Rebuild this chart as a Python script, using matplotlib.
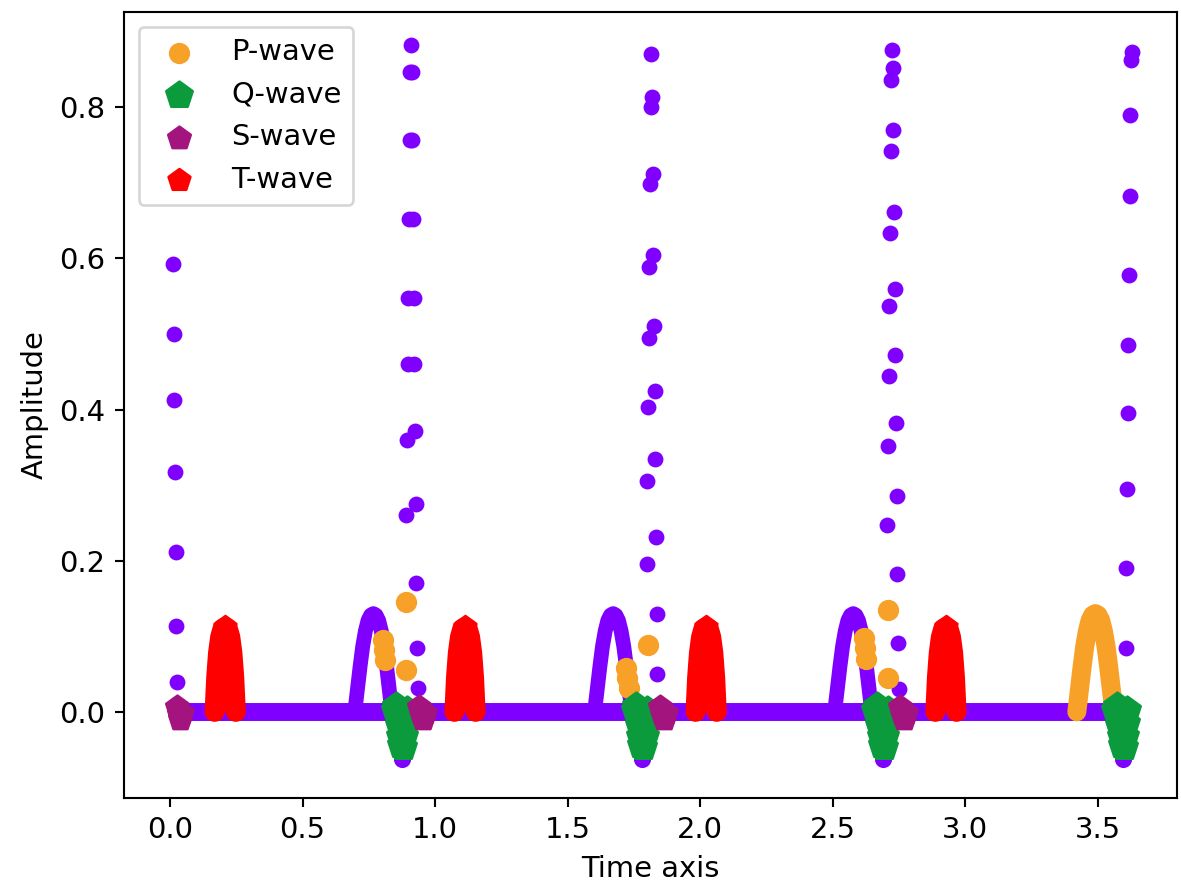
import matplotlib.pyplot as plt
import numpy as np

# beat landmarks (seconds)
r_times = [0.008, 0.909, 1.816, 2.724, 3.629]
p_centres = [0.767, 1.672, 2.578, 3.492]      # P humps of beats 2-5
s_centres = [0.035, 0.951, 1.860, 2.766]
t_centres = [0.208, 1.113, 2.023, 2.928]
baseline_span = [0.03, 3.58]
sample_dt = 0.0025

# R spike samples (separate dots on the chart)
r_up_b2 = [0.26, 0.36, 0.46, 0.548, 0.652, 0.757, 0.846, 0.882]
r_up_b3 = [0.195, 0.305, 0.403, 0.495, 0.588, 0.698, 0.80, 0.871]
r_up_b4 = [0.247, 0.352, 0.445, 0.537, 0.634, 0.742, 0.836, 0.876]
r_up_b5 = [0.085, 0.19, 0.295, 0.395, 0.485, 0.578, 0.683, 0.79, 0.862, 0.873]
r_down_b1 = [0.593, 0.50, 0.413, 0.318, 0.212, 0.113, 0.04]
r_down_b2 = [0.846, 0.757, 0.652, 0.548, 0.46, 0.372, 0.275, 0.17, 0.085, 0.032]
r_down_b3 = [0.813, 0.712, 0.604, 0.51, 0.425, 0.335, 0.232, 0.13, 0.05]
r_down_b4 = [0.852, 0.77, 0.662, 0.56, 0.472, 0.382, 0.286, 0.183, 0.091, 0.03]

# wave shapes (offset from the wave centre, amplitude)
p_offsets = [-0.070, -0.060, -0.050, -0.040, -0.030, -0.020, -0.010, 0.0,
             0.010, 0.020, 0.030, 0.040, 0.050, 0.060, 0.070]
p_amps = [0.0, 0.030, 0.060, 0.087, 0.107, 0.121, 0.128, 0.130,
          0.128, 0.121, 0.107, 0.087, 0.060, 0.030, 0.0]
q_offsets = [-0.062, -0.057, -0.052, -0.047, -0.042, -0.038, -0.034,
             -0.030, -0.025, -0.020, -0.016]
q_amps = [0.003, 0.008, -0.004, -0.018, -0.032, -0.044, -0.063,
          -0.046, -0.032, -0.015, 0.002]
s_offsets = [-0.010, -0.003, 0.004, 0.010]
s_amps = [0.006, -0.003, -0.009, -0.002]
t_offsets = [-0.040, -0.034, -0.027, -0.019, -0.010, 0.0, 0.010, 0.019, 0.027, 0.034, 0.040]
t_amps = [0.0, 0.045, 0.078, 0.099, 0.110, 0.112, 0.110, 0.099, 0.078, 0.045, 0.0]

# isolated P-wave detections
p_mark_t = [0.804, 0.808, 0.812, 0.889, 0.889, 1.722, 1.726, 1.730, 1.803,
            2.617, 2.621, 2.625, 2.709, 2.709]
p_mark_v = [0.095, 0.082, 0.068, 0.145, 0.055, 0.058, 0.045, 0.032, 0.088,
            0.098, 0.084, 0.070, 0.135, 0.045]

SIG = "#7f00ff"
C_P = "#f7a128"
C_Q = "#0b9a3c"
C_S = "#a3147f"
C_T = "#ff0000"

plt.rcParams["font.size"] = 11

fig = plt.figure(figsize=(1181 / 190, 889 / 190), dpi=190)
ax = fig.add_axes([124 / 1181, 1 - 798 / 889, (1177 - 124) / 1181, (798 - 12) / 889])
line_kw = dict(solid_joinstyle="round", solid_capstyle="round")

# signal (bottom layer)
ax.plot(baseline_span, [0, 0], color=SIG, lw=6.8, zorder=1, **line_kw)
for pc in p_centres[:3]:
    ax.plot(pc + np.array(p_offsets), p_amps, color=SIG, lw=5.6, zorder=1, **line_kw)
for rt in r_times[1:]:
    ax.plot(rt + np.array(q_offsets), q_amps, color=SIG, lw=3.0, zorder=1, **line_kw)
    ax.scatter(rt + np.array(q_offsets[6:7]), q_amps[6:7], s=30, color=SIG, zorder=1)
ups = [[], r_up_b2, r_up_b3, r_up_b4, r_up_b5]
downs = [r_down_b1, r_down_b2, r_down_b3, r_down_b4, []]
for rt, up, down in zip(r_times, ups, downs):
    if up:
        ut = rt - sample_dt * np.arange(len(up))[::-1]
        ax.scatter(ut, up, s=25, color=SIG, zorder=1)
    if down:
        dtm = rt + sample_dt * (np.arange(len(down)) + 1)
        ax.scatter(dtm, down, s=25, color=SIG, zorder=1)

# P-wave
ax.plot(p_centres[3] + np.array(p_offsets), p_amps, color=C_P, lw=7.2, zorder=2, **line_kw)
ax.scatter(p_mark_t, p_mark_v, s=50, color=C_P, label="P-wave", zorder=2)

# Q-wave
qi = [0, 1, 2, 3, 4, 5, 7, 8, 9, 10]
for k, rt in enumerate(r_times[1:]):
    ax.scatter(rt + np.array(q_offsets)[qi], np.array(q_amps)[qi], s=110, marker="p",
               color=C_Q, label="Q-wave" if k == 0 else None, zorder=3)

# S-wave
for k, sc in enumerate(s_centres):
    ax.scatter(sc + np.array(s_offsets), s_amps, s=80, marker="p",
               color=C_S, label="S-wave" if k == 0 else None, zorder=4)

# T-wave
for k, tc in enumerate(t_centres):
    tt = tc + np.array(t_offsets)
    ax.fill_between(tt, 0, t_amps, color=C_T, lw=0, zorder=5)
    ax.plot(tt, t_amps, color=C_T, lw=7.6, zorder=5, **line_kw)
    ax.scatter(tt[5:6], t_amps[5:6], s=75, marker="p", color=C_T,
               label="T-wave" if k == 0 else None, zorder=5)

ax.set_xlim(-0.174, 3.80)
ax.set_ylim(-0.114, 0.926)
ax.set_xlabel("Time axis")
ax.set_ylabel("Amplitude")
ax.legend(loc="upper left")

fig.savefig("out.png", dpi=190)
